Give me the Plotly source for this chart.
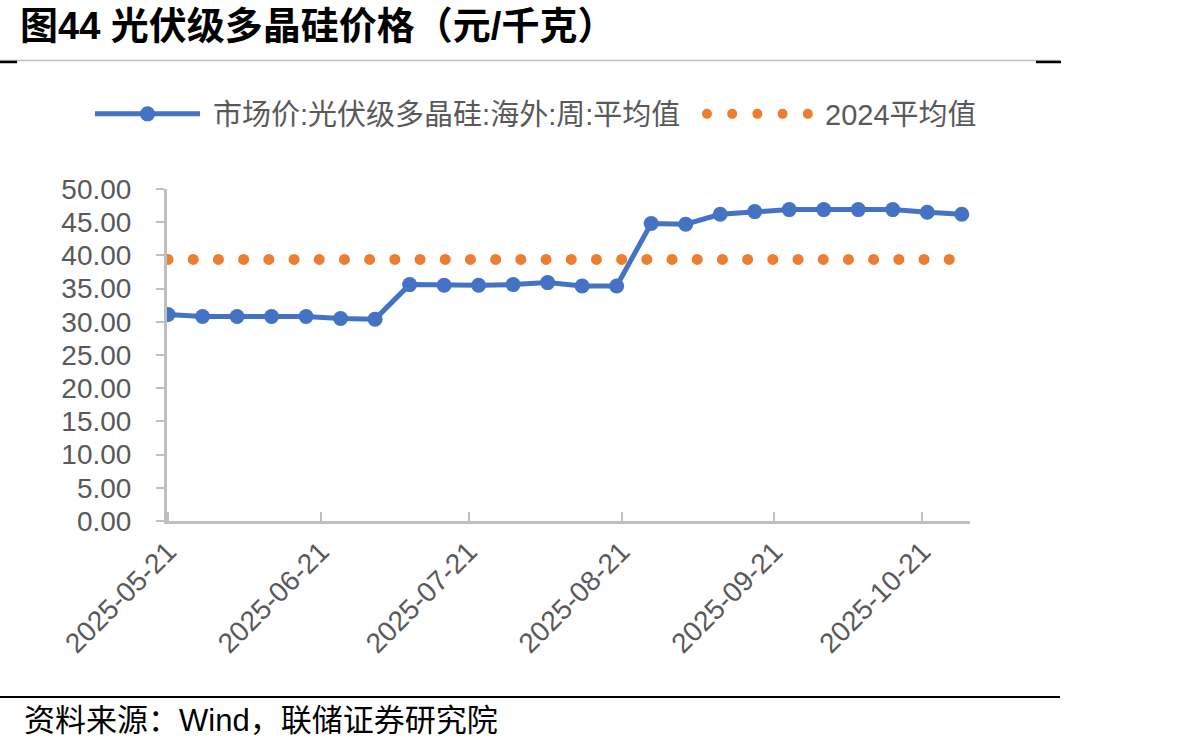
import plotly.graph_objects as go

# ---------------- data ----------------
dates = ["2025-05-21", "2025-05-28", "2025-06-04", "2025-06-11", "2025-06-18", "2025-06-25",
         "2025-07-02", "2025-07-09", "2025-07-16", "2025-07-23", "2025-07-30", "2025-08-06",
         "2025-08-13", "2025-08-20", "2025-08-27", "2025-09-03", "2025-09-10", "2025-09-17",
         "2025-09-24", "2025-10-01", "2025-10-08", "2025-10-15", "2025-10-22", "2025-10-29"]
price = [31.1, 30.8, 30.8, 30.8, 30.8, 30.5,
         30.4, 35.6, 35.5, 35.5, 35.6, 35.9,
         35.4, 35.4, 44.8, 44.7, 46.2, 46.6,
         46.9, 46.9, 46.9, 46.9, 46.5, 46.2]
avg_2024 = 39.4
avg_line = [avg_2024 for _ in dates]

tick_dates = ["2025-05-21", "2025-06-21", "2025-07-21", "2025-08-21", "2025-09-21", "2025-10-21"]
y_ticks = [0, 5, 10, 15, 20, 25, 30, 35, 40, 45, 50]

series_name = "市场价:光伏级多晶硅:海外:周:平均值"
avg_name = "2024平均值"
title_text = "图44 光伏级多晶硅价格（元/千克）"
source_text = "资料来源：Wind，联储证券研究院"

# ---------------- layout constants ----------------
W, H = 1180, 752
L, R, T, B = 167, 970, 189, 521
FONT = "Liberation Sans, Arial, Noto Sans CJK SC, sans-serif"
GREY = "#595959"
AXIS = "#BFBFBF"
BLUE = "#4472C4"
ORANGE = "#ED7D31"
NB = "\u00a0"

def px_x(px):
    return (px - L) / (R - L)

def px_y(py):
    return (B - py) / (B - T)

fig = go.Figure()
fig.add_trace(go.Scatter(
    x=dates, y=price, name=NB + series_name, mode="lines+markers",
    line=dict(color=BLUE, width=5),
    marker=dict(color=BLUE, size=15),
    legend="legend",
))
fig.add_trace(go.Scatter(
    x=dates, y=avg_line, name=NB + avg_name, mode="lines",
    line=dict(color=ORANGE, width=11, dash="0px,25.2px"),
    legend="legend2",
))

legend_common = dict(
    orientation="h", xref="container", yref="container",
    xanchor="left", yanchor="middle",
    font=dict(size=29, color=GREY, family=FONT),
    itemwidth=105, bgcolor="rgba(0,0,0,0)",
)

fig.update_layout(
    width=W, height=H,
    margin=dict(l=L, r=W - R, t=T, b=H - B, pad=0, autoexpand=False),
    paper_bgcolor="white", plot_bgcolor="white",
    font=dict(family=FONT, color=GREY, size=28),
    showlegend=True,
    legend=dict(x=90 / W, y=1 - 114 / H, **legend_common),
    legend2=dict(x=702 / W, y=1 - 114 / H, **legend_common),
    title=dict(
        text="<b>" + title_text + "</b>", xref="container", yref="container",
        x=20 / W, xanchor="left", y=1 - 26 / H, yanchor="middle",
        font=dict(size=38, color="black", family="Liberation Sans, Noto Sans CJK SC"),
    ),
    hovermode=False,
)

fig.update_xaxes(
    type="date",
    range=["2025-05-20 19:00", "2025-10-30 16:00"],
    tickvals=tick_dates, ticktext=tick_dates, tickangle=-45,
    ticks="inside", ticklen=9, tickwidth=2, tickcolor=AXIS,
    showline=True, linecolor=AXIS, linewidth=3,
    showgrid=False, zeroline=False,
    tickfont=dict(size=28, color=GREY, family=FONT),
)
fig.update_yaxes(
    range=[0, 50], tickvals=y_ticks, tickformat=".2f",
    ticks="outside", ticklen=8, tickwidth=2, tickcolor=AXIS,
    showline=True, linecolor=AXIS, linewidth=3,
    showgrid=False, zeroline=False,
    ticklabelstandoff=19,
    tickfont=dict(size=28, color=GREY, family=FONT),
)

# decorative rules (report frame)
shapes = [
    dict(type="line", xref="paper", yref="paper", x0=px_x(0), x1=px_x(1060), y0=px_y(60.5), y1=px_y(60.5),
         line=dict(color="#BFBFBF", width=1.5)),
    dict(type="line", xref="paper", yref="paper", x0=px_x(0), x1=px_x(17), y0=px_y(62), y1=px_y(62),
         line=dict(color="black", width=2.5)),
    dict(type="line", xref="paper", yref="paper", x0=px_x(1036), x1=px_x(1061), y0=px_y(62), y1=px_y(62),
         line=dict(color="black", width=2.5)),
    dict(type="line", xref="paper", yref="paper", x0=px_x(0), x1=px_x(1060), y0=px_y(697), y1=px_y(697),
         line=dict(color="black", width=2)),
]
fig.update_layout(shapes=shapes)

fig.add_annotation(
    text=source_text, xref="paper", yref="paper",
    x=px_x(22), y=px_y(720), xanchor="left", yanchor="middle", showarrow=False,
    font=dict(size=31, color="black", family="Liberation Sans, Noto Sans CJK SC"),
)

post = """
var gd = document.getElementById('{plot_id}');
function fixCaps(){
  document.querySelectorAll('path.js-line').forEach(function(p){
    var s = p.style.stroke || '';
    if (s.indexOf('237, 125, 49') >= 0) { p.style.strokeLinecap = 'round'; }
  });
}
fixCaps();
if (gd && gd.on) { gd.on('plotly_afterplot', fixCaps); }
setTimeout(fixCaps, 50);
"""

fig.write_html("out.html", post_script=post)
